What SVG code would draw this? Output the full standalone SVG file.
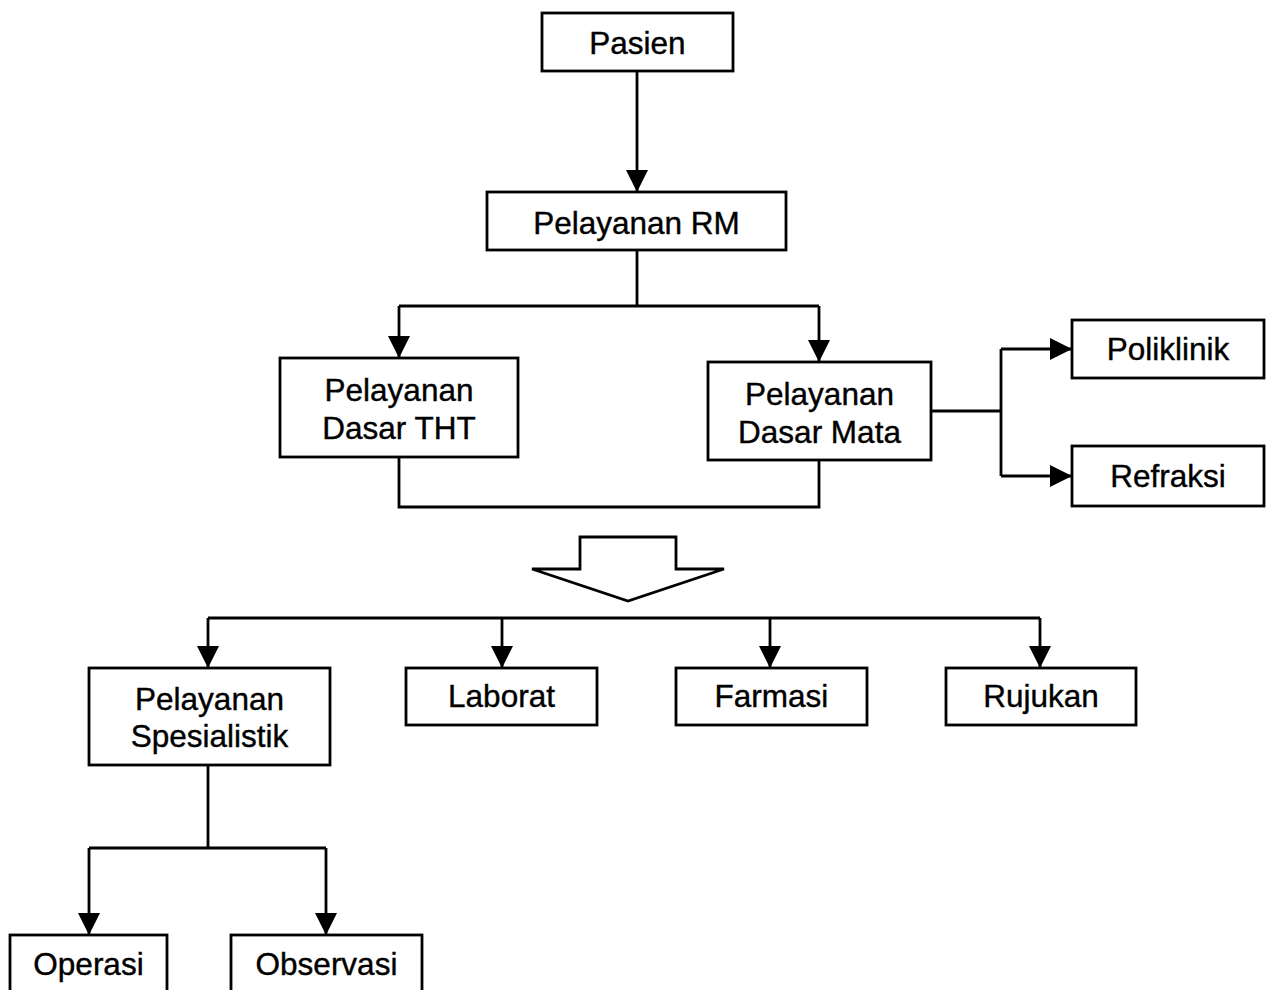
<svg xmlns="http://www.w3.org/2000/svg" width="1267" height="990" viewBox="0 0 1267 990">
<style>
.box{fill:#fff;stroke:#000;stroke-width:2.8}
.t{font-family:"Liberation Sans",Arial,sans-serif;font-size:31.5px;fill:#000;stroke:#000;stroke-width:0.4;text-anchor:middle}
.c{fill:none;stroke:#000;stroke-width:2.8}
</style>
<defs>
<marker id="ah" viewBox="0 0 22 22" refX="22" refY="11" markerWidth="22" markerHeight="22" markerUnits="userSpaceOnUse" orient="auto">
<path d="M0,0 L22,11 L0,22 Z" fill="#000"/>
</marker>
</defs>
<rect width="1267" height="990" fill="#fff"/>
<g id="connectors">
<path class="c" d="M637,71 V192" marker-end="url(#ah)"/>
<path class="c" d="M637,250 V306 M399,306 H819"/>
<path class="c" d="M399,306 V358" marker-end="url(#ah)"/>
<path class="c" d="M819,306 V362" marker-end="url(#ah)"/>
<path class="c" d="M399,457 V507 H819 V460"/>
<path class="c" d="M931,411 H1001 M1001,349 V476"/>
<path class="c" d="M1001,349 H1072" marker-end="url(#ah)"/>
<path class="c" d="M1001,476 H1072" marker-end="url(#ah)"/>
<path class="c" d="M580,569 V537 H676 V569 H724 L628,601 L532,569 Z"/>
<path class="c" d="M208,618 H1040"/>
<path class="c" d="M208,618 V668" marker-end="url(#ah)"/>
<path class="c" d="M502,618 V668" marker-end="url(#ah)"/>
<path class="c" d="M770,618 V668" marker-end="url(#ah)"/>
<path class="c" d="M1040,618 V668" marker-end="url(#ah)"/>
<path class="c" d="M208,765 V848 M89,848 H326"/>
<path class="c" d="M89,848 V935" marker-end="url(#ah)"/>
<path class="c" d="M326,848 V935" marker-end="url(#ah)"/>
</g>
<g id="pasien"><rect class="box" x="542" y="13" width="191" height="58"/><text class="t" x="637.5" y="54">Pasien</text></g>
<g id="rm"><rect class="box" x="487" y="192" width="299" height="58"/><text class="t" x="636.5" y="234">Pelayanan RM</text></g>
<g id="tht"><rect class="box" x="280" y="358" width="238" height="99"/><text class="t" x="399" y="401">Pelayanan</text><text class="t" x="399" y="439">Dasar THT</text></g>
<g id="mata"><rect class="box" x="708" y="362" width="223" height="98"/><text class="t" x="819.5" y="405">Pelayanan</text><text class="t" x="819.5" y="443">Dasar Mata</text></g>
<g id="poliklinik"><rect class="box" x="1072" y="320" width="192" height="58"/><text class="t" x="1168" y="360">Poliklinik</text></g>
<g id="refraksi"><rect class="box" x="1072" y="446" width="192" height="60"/><text class="t" x="1168" y="487">Refraksi</text></g>
<g id="spesialistik"><rect class="box" x="89" y="668" width="241" height="97"/><text class="t" x="209.5" y="710">Pelayanan</text><text class="t" x="209.5" y="747">Spesialistik</text></g>
<g id="laborat"><rect class="box" x="406" y="668" width="191" height="57"/><text class="t" x="501.5" y="707">Laborat</text></g>
<g id="farmasi"><rect class="box" x="676" y="668" width="191" height="57"/><text class="t" x="771.5" y="707">Farmasi</text></g>
<g id="rujukan"><rect class="box" x="946" y="668" width="190" height="57"/><text class="t" x="1041" y="707">Rujukan</text></g>
<g id="operasi"><rect class="box" x="10" y="935" width="157" height="70"/><text class="t" x="88.5" y="975">Operasi</text></g>
<g id="observasi"><rect class="box" x="231" y="935" width="191" height="70"/><text class="t" x="326.5" y="975">Observasi</text></g>
</svg>
